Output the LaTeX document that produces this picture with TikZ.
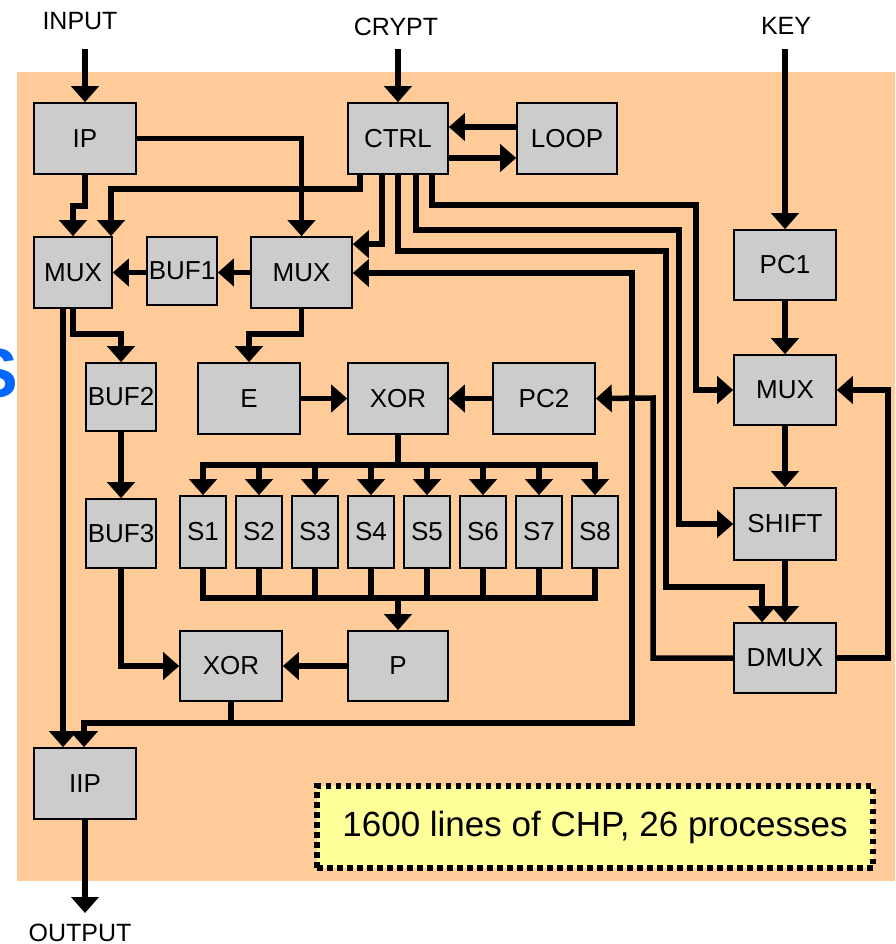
\documentclass[tikz,border=0pt]{standalone}
\usepackage{fontspec}
\setmainfont{Liberation Sans}
\usetikzlibrary{arrows.meta,calc}
\definecolor{bgorange}{RGB}{255,204,153}
\definecolor{boxgray}{RGB}{204,204,204}
\definecolor{noteyellow}{RGB}{255,255,153}
\definecolor{titleblue}{RGB}{0,102,255}
\begin{document}
\begin{tikzpicture}[x=1pt,y=-1pt,
  blk/.style={draw=black, fill=boxgray, line width=1.6pt, inner sep=0pt, font=\fontsize{26}{30}\selectfont},
  wire/.style={line width=5.5pt},
  arr/.style={wire, -{Triangle[length=16pt,width=27pt]}},
  lbl/.style={font=\fontsize{25}{30}\selectfont, inner sep=0pt}]
\useasboundingbox (0,0) rectangle (895,944);
\fill[bgorange] (17,72) rectangle (895,881);
\node[anchor=base east, inner sep=0pt, text=titleblue, font=\fontsize{70}{80}\selectfont\bfseries] (title) at (18,397) {S};

% labels
\node[lbl] (INPUT) at (80,21) {INPUT};
\node[lbl] (CRYPT) at (396,27) {CRYPT};
\node[lbl] (KEY) at (786,26) {KEY};
\node[lbl] (OUTPUT) at (80,933) {OUTPUT};
\coordinate (inA) at (85,49);
\coordinate (crA) at (398,49);
\coordinate (keyA) at (785,49);
\coordinate (outA) at (85,913);

% boxes
\node[blk, minimum width=102, minimum height=71] (IP) at (85,138.5) {IP};
\node[blk, minimum width=100, minimum height=71] (CTRL) at (398,138.5) {CTRL};
\node[blk, minimum width=100, minimum height=71] (LOOP) at (567,138.5) {LOOP};
\node[blk, minimum width=78, minimum height=71] (MUXa) at (73,272.5) {MUX};
\node[blk, minimum width=70, minimum height=68] (BUFa) at (182,271) {BUF1};
\node[blk, minimum width=101, minimum height=71] (MUXb) at (301.5,272.5) {MUX};
\node[blk, minimum width=102, minimum height=70] (PCa) at (785,265) {PC1};
\node[blk, minimum width=102, minimum height=70] (MUXc) at (785,390) {MUX};
\node[blk, minimum width=70, minimum height=68] (BUFb) at (121,397) {BUF2};
\node[blk, minimum width=102, minimum height=71] (E) at (249,398.5) {E};
\node[blk, minimum width=100, minimum height=71] (XORa) at (398,398.5) {XOR};
\node[blk, minimum width=102, minimum height=71] (PCb) at (544,398.5) {PC2};
\node[blk, minimum width=70, minimum height=69] (BUFc) at (121,533.5) {BUF3};
\foreach \i in {1,...,8}{
  \node[blk, minimum width=46, minimum height=72] (S\i) at ({203+56*(\i-1)},532) {S\i};
}
\node[blk, minimum width=102, minimum height=72] (SHIFT) at (785,524) {SHIFT};
\node[blk, minimum width=102, minimum height=70] (DMUX) at (785,658) {DMUX};
\node[blk, minimum width=100, minimum height=70] (P) at (398,666) {P};
\node[blk, minimum width=102, minimum height=70] (XORb) at (231,666) {XOR};
\node[blk, minimum width=102, minimum height=71] (IIP) at (85,783.5) {IIP};
\node[draw=black, fill=noteyellow, line width=5.5pt, dash pattern=on 5.5pt off 4.5pt,
      minimum width=556, minimum height=82, inner sep=0pt,
      font=\fontsize{35}{40}\selectfont] (note) at (595,827) {1600 lines of CHP, 26 processes};

% inputs / outputs
\draw[arr] (inA) -- (IP.north);
\draw[arr] (crA) -- (CTRL.north);
\draw[arr] (keyA) -- (PCa.north);
\draw[arr] (IIP.south) -- (outA);

% CTRL <-> LOOP
\draw[arr] ($(LOOP.west)+(0,-11.5)$) -- ($(CTRL.east)+(0,-11.5)$);
\draw[arr] ($(CTRL.east)+(0,19.5)$) -- ($(LOOP.west)+(0,19.5)$);

% IP outputs
\draw[arr] (IP.east) -| (MUXb.north);
\draw[arr] (IP.south) -- ++(0,31) -| (MUXa.north);

% CTRL outputs
\draw[arr] ($(CTRL.south)+(-38,0)$) -- ++(0,14) -| ($(MUXa.north)+(38,0)$);
\draw[arr] ($(CTRL.south)+(-16,0)$) |- ($(MUXb.north east)+(0,8)$);
\draw[arr] (CTRL.south) -- ++(0,76) -| (666,587) -| ($(DMUX.north)+(-23,0)$);
\draw[arr] ($(CTRL.south)+(18,0)$) -- ++(0,55) -| (679,524) -- (SHIFT.west);
\draw[arr] ($(CTRL.south)+(34,0)$) -- ++(0,30) -| (696,390) -- (MUXc.west);

% MUX / BUF chain
\draw[arr] (MUXb.west) -- (BUFa.east |- MUXb.west);
\draw[arr] (BUFa.west |- MUXa.east) -- (MUXa.east);
\draw[arr] ($(MUXa.south)+(-10,0)$) -- ($(IIP.north)+(-22,0)$);
\draw[arr] (MUXa.south) -- ++(0,25) -| (BUFb.north);
\draw[arr] (BUFb.south) -- (BUFc.north);
\draw[arr] (BUFc.south) |- (XORb.west);
\draw[arr] (P.west) -- (XORb.east);
\draw[arr] (MUXb.south) -- ++(0,25) -| (E.north);
\draw[arr] (E.east) -- (XORa.west);
\draw[arr] (PCb.west) -- (XORa.east);

% S-box buses
\coordinate (topbus) at (398,465);
\coordinate (botbus) at (398,598);
\draw[wire] (XORa.south) -- (topbus);
\draw[wire, line cap=rect] (S1.north |- topbus) -- (S8.north |- topbus);
\draw[wire] (S1.south) |- (botbus) -| (S8.south);
\foreach \i in {1,...,8}{
  \draw[arr] (S\i.north |- topbus) -- (S\i.north);
}
\foreach \i in {2,...,7}{
  \draw[wire] (S\i.south) -- (S\i.south |- botbus);
}
\draw[arr] (botbus) -- (P.north);

% XOR feedback
\coordinate (fbj) at (231,723);
\draw[arr] (XORb.south) -- (fbj) -| (632,273) -- ($(MUXb.east)+(0,0.5)$);
\draw[arr] (fbj) -| ($(IIP.north)+(-1,0)$);

% key schedule
\draw[arr] (PCa.south) -- (MUXc.north);
\draw[arr] (MUXc.south) -- (SHIFT.north);
\draw[arr] (SHIFT.south) -- (DMUX.north);
\draw[arr] (DMUX.west) -| (653,398) -- (PCb.east);
\draw[arr] (DMUX.east) -| (888,390) -- (MUXc.east);
\end{tikzpicture}
\end{document}
